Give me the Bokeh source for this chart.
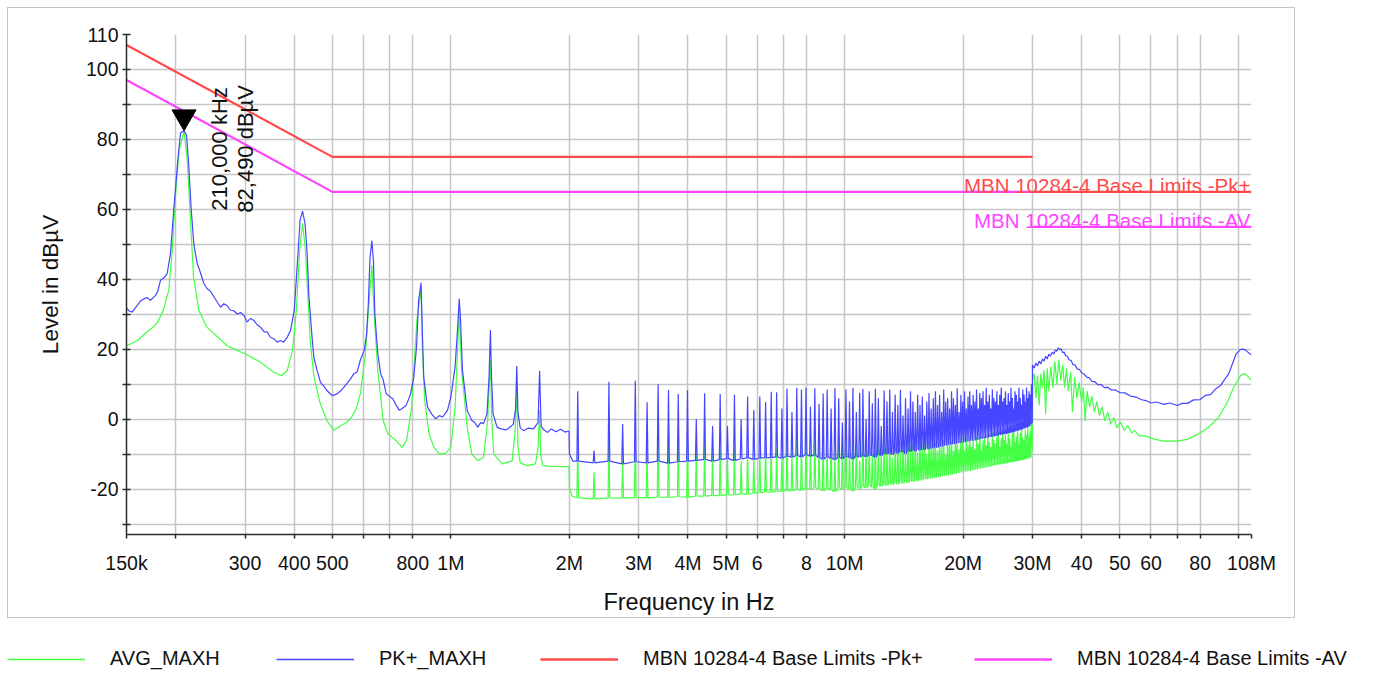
from bokeh.plotting import figure
from bokeh.models import Range1d, FixedTicker, Label, Legend, LegendItem, CustomJSTickFormatter
from bokeh.embed import file_html
from bokeh.resources import INLINE

FONT = "Liberation Sans"

# ---------------- axes ----------------
x_ticks_mhz = [0.15, 0.2, 0.3, 0.4, 0.5, 0.6, 0.7, 0.8, 1, 2, 3, 4, 5, 6, 7, 8,
               10, 20, 30, 40, 50, 60, 70, 80, 100, 108]
x_tick_labels = ["150k", "", "300", "400", "500", "", "", "800", "1M", "2M", "3M", "4M",
                 "5M", "6", "", "8", "10M", "20M", "30M", "40", "50", "60", "", "80", "", "108M"]
y_ticks_db = [-30, -20, -10, 0, 10, 20, 30, 40, 50, 60, 70, 80, 90, 100, 110]
y_tick_labels = ["", "-20", "", "0", "", "20", "", "40", "", "60", "", "80", "", "100", "110"]

# ---------------- limits ----------------
pk_limit_mhz = [0.15, 0.5, 30.0]
pk_limit_db = [107, 75, 75]
pk_limit2_mhz = [30.0, 108.0]
pk_limit2_db = [65, 65]
av_limit_mhz = [0.15, 0.5, 30.0]
av_limit_db = [97, 65, 65]
av_limit2_mhz = [30.0, 108.0]
av_limit2_db = [55, 55]

# ---------------- marker ----------------
marker_mhz = 0.21
marker_db = 82.49
marker_text_f = "210,000 kHz"
marker_text_l = "82,490 dBµV"

# ---------------- PK+ (blue) 150 kHz - 2 MHz ----------------
pk_low_mhz = [0.150, 0.152, 0.155, 0.1597, 0.163, 0.166, 0.169, 0.1726, 0.1778, 0.180,
              0.183, 0.187, 0.1903, 0.194, 0.1978, 0.2025, 0.2057, 0.210, 0.213, 0.2155,
              0.219, 0.2224, 0.2268, 0.231, 0.2358, 0.2404, 0.245, 0.250, 0.255, 0.260,
              0.265, 0.270, 0.275, 0.281, 0.287, 0.292, 0.298, 0.3037, 0.310, 0.316,
              0.322, 0.3285, 0.335, 0.3416, 0.348, 0.355, 0.362, 0.369, 0.376, 0.384,
              0.3915, 0.400, 0.408, 0.414, 0.420, 0.426, 0.431, 0.436, 0.444, 0.4486,
              0.457, 0.4665, 0.475, 0.485, 0.500, 0.515, 0.525, 0.545, 0.556, 0.567,
              0.578, 0.589, 0.603, 0.611, 0.617, 0.623, 0.630, 0.636, 0.641, 0.652,
              0.663, 0.672, 0.685, 0.698, 0.712, 0.726, 0.740, 0.755, 0.769, 0.780,
              0.790, 0.805, 0.818, 0.828, 0.840, 0.846, 0.853, 0.872, 0.893, 0.915,
              0.935, 0.953, 0.980, 1.000, 1.025, 1.040, 1.050, 1.058, 1.070, 1.100,
              1.130, 1.150, 1.170, 1.190, 1.210, 1.235, 1.250, 1.260, 1.268, 1.280,
              1.310, 1.340, 1.380, 1.410, 1.440, 1.460, 1.470, 1.480, 1.500, 1.530,
              1.570, 1.620, 1.665, 1.680, 1.695, 1.720, 1.760, 1.800, 1.850, 1.900,
              1.950, 1.995, 2.000, 2.040]
pk_low_db = [31.8, 31.0, 30.6, 32.5, 33.8, 34.4, 34.8, 34.0, 35.4, 36.5,
             39.7, 40.5, 41.6, 47.4, 60.0, 74.0, 81.8, 82.49, 81.3, 74.0,
             60.0, 50.0, 44.5, 42.0, 38.8, 37.3, 36.6, 35.0, 33.5, 32.0,
             33.0, 32.5, 31.2, 31.0, 30.0, 30.5, 29.7, 27.8, 28.8, 28.2,
             27.0, 26.3, 25.0, 24.9, 23.4, 23.0, 22.0, 22.5, 22.0, 23.4,
             25.4, 31.0, 45.5, 57.0, 59.5, 56.0, 48.3, 35.0, 23.4, 17.7,
             14.0, 10.5, 9.5, 8.1, 6.7, 7.3, 8.1, 10.2, 11.5, 13.0,
             13.5, 16.9, 19.8, 24.5, 33.0, 46.0, 51.0, 45.0, 30.0, 18.8,
             13.0, 11.5, 7.3, 6.5, 5.8, 4.0, 2.5, 3.2, 3.9, 5.5,
             7.3, 12.0, 20.7, 34.0, 39.0, 25.5, 12.0, 3.5, 1.5, 0.1,
             1.0, 0.6, 2.5, 6.3, 15.0, 26.0, 34.4, 28.4, 14.0, 2.5,
             -0.4, -1.0, -2.3, -1.0, -1.3, 1.5, 12.0, 25.5, 12.0, 1.5,
             -2.3, -2.8, -3.1, -2.4, -1.5, 3.0, 15.2, 2.0, -2.5, -3.3,
             -2.6, -2.8, -1.0, 13.8, -2.0, -3.0, -3.8, -2.8, -3.6, -2.9,
             -3.7, -3.4, -10.0, -12.0]

# ---------------- AVG (green) 150 kHz - 2 MHz ----------------
av_low_mhz = [0.150, 0.160, 0.169, 0.176, 0.180, 0.186, 0.192, 0.196, 0.200, 0.204,
              0.210, 0.214, 0.218, 0.222, 0.229, 0.240, 0.256, 0.270, 0.285, 0.300,
              0.328, 0.355, 0.372, 0.384, 0.396, 0.405, 0.413, 0.420, 0.427, 0.433,
              0.440, 0.449, 0.466, 0.485, 0.504, 0.525, 0.545, 0.560, 0.575, 0.589,
              0.607, 0.619, 0.630, 0.637, 0.652, 0.673, 0.692, 0.725, 0.752, 0.772,
              0.795, 0.808, 0.820, 0.840, 0.846, 0.858, 0.880, 0.905, 0.935, 0.970,
              1.000, 1.025, 1.050, 1.065, 1.100, 1.130, 1.170, 1.210, 1.240, 1.260,
              1.270, 1.285, 1.350, 1.430, 1.455, 1.470, 1.480, 1.500, 1.560, 1.640,
              1.665, 1.680, 1.690, 1.710, 1.800, 1.995, 2.000, 2.030]
av_low_db = [21.0, 22.5, 24.9, 26.5, 27.8, 31.1, 36.8, 48.3, 64.6, 77.0,
             82.3, 74.0, 57.0, 40.7, 31.1, 26.3, 23.4, 21.0, 19.8, 18.7,
             16.3, 13.4, 12.4, 13.9, 19.6, 31.1, 48.3, 56.0, 48.3, 35.9,
             21.5, 12.0, 4.3, -0.5, -3.2, -1.9, -0.8, 0.6, 3.0, 7.3,
             18.8, 33.0, 44.0, 32.0, 14.0, -0.4, -4.2, -6.1, -8.1, -6.1,
             3.5, 16.9, 28.4, 37.0, 20.7, 5.4, -4.2, -8.0, -10.0, -9.8,
             -8.0, 3.5, 31.0, 14.0, -2.3, -10.0, -11.9, -11.0, -0.4, 17.0,
             -0.4, -10.0, -12.8, -12.0, -4.0, 9.2, -8.0, -12.5, -13.3, -12.8,
             -8.0, 2.5, -10.0, -13.3, -13.5, -13.6, -19.6, -22.0]

# ---------------- harmonics 2.1 - 29.82 MHz ----------------
harm_mhz = [2.10, 2.31, 2.52, 2.73, 2.94, 3.15, 3.36, 3.57, 3.78, 3.99,
            4.20, 4.41, 4.62, 4.83, 5.04, 5.25, 5.46, 5.67, 5.88, 6.09,
            6.30, 6.51, 6.72, 6.93, 7.14, 7.35, 7.56, 7.77, 7.98, 8.19,
            8.40, 8.61, 8.82, 9.03, 9.24, 9.45, 9.66, 9.87, 10.08, 10.29,
            10.50, 10.71, 10.92, 11.13, 11.34, 11.55, 11.76, 11.97, 12.18, 12.39,
            12.60, 12.81, 13.02, 13.23, 13.44, 13.65, 13.86, 14.07, 14.28, 14.49,
            14.70, 14.91, 15.12, 15.33, 15.54, 15.75, 15.96, 16.17, 16.38, 16.59,
            16.80, 17.01, 17.22, 17.43, 17.64, 17.85, 18.06, 18.27, 18.48, 18.69,
            18.90, 19.11, 19.32, 19.53, 19.74, 19.95, 20.16, 20.37, 20.58, 20.79,
            21.00, 21.21, 21.42, 21.63, 21.84, 22.05, 22.26, 22.47, 22.68, 22.89,
            23.10, 23.31, 23.52, 23.73, 23.94, 24.15, 24.36, 24.57, 24.78, 24.99,
            25.20, 25.41, 25.62, 25.83, 26.04, 26.25, 26.46, 26.67, 26.88, 27.09,
            27.30, 27.51, 27.72, 27.93, 28.14, 28.35, 28.56, 28.77, 28.98, 29.19,
            29.40, 29.61, 29.82]
pk_harm_peak = [8.0, -9.0, 10.7, -1.4, 11.0, 4.8, 10.0, 8.3, 7.2, 8.3,
                0.0, 7.4, -2.0, 7.2, -2.0, 7.0, 0.0, 6.5, 2.5, 6.5,
                4.9, 7.8, 7.7, 3.0, 8.7, 2.0, 9.0, 8.5, 9.0, 3.5,
                8.8, 4.4, 7.3, 8.5, 3.0, 8.8, 6.0, -1.0, 8.5, 5.0,
                8.9, 2.0, 7.5, 8.6, 0.0, 8.0, 4.5, 8.7, 6.0, -2.0,
                8.2, 5.0, 8.5, 2.0, 7.0, 4.0, 8.4, 1.0, 6.0, 3.0,
                8.0, 5.0, 2.0, 7.0, 4.0, 6.5, 1.0, 5.0, 7.5, 3.0,
                6.0, 8.0, 4.0, 7.0, 2.0, 8.5, 5.0, 6.0, 3.0, 8.0,
                6.0, 4.0, 8.8, 2.0, 7.0, 5.0, 8.0, 3.0, 6.5, 8.0,
                4.0, 7.0, 5.0, 8.5, 3.0, 7.5, 6.0, 8.0, 4.0, 9.0,
                5.0, 7.0, 3.0, 8.5, 6.0, 5.0, 8.0, 4.0, 7.0, 9.0,
                5.0, 6.0, 8.0, 4.0, 7.5, 5.0, 9.0, 6.0, 3.0, 8.0,
                7.0, 5.0, 9.0, 6.0, 4.0, 8.5, 7.0, 5.0, 9.0, 6.0,
                8.0, 7.0, 10.0]
pk_harm_floor = [-12.0, -12.5, -12.0, -12.8, -12.2, -12.5, -12.0, -12.6, -12.2, -12.0,
                 -11.8, -11.5, -12.0, -11.6, -11.3, -11.8, -11.4, -11.0, -11.5, -11.2,
                 -11.0, -11.0, -10.8, -11.2, -10.6, -10.9, -10.4, -10.8, -10.2, -10.6,
                 -10.3, -11.0, -11.5, -10.8, -11.2, -11.6, -10.9, -11.3, -10.7, -11.0,
                 -11.4, -10.6, -10.9, -10.4, -10.8, -10.2, -10.5, -10.9, -10.1, -10.4,
                 -9.8, -10.0, -9.6, -10.2, -9.4, -9.8, -9.1, -9.5, -9.9, -9.0,
                 -9.3, -8.8, -9.2, -8.6, -9.0, -8.4, -8.8, -8.2, -8.6, -8.0,
                 -8.3, -7.8, -8.2, -7.5, -7.9, -7.2, -7.6, -7.0, -7.4, -6.8,
                 -7.2, -6.6, -7.0, -6.5, -6.8, -6.2, -6.6, -6.0, -6.4, -5.8,
                 -6.2, -5.8, -6.1, -5.5, -5.9, -5.3, -5.7, -5.1, -5.5, -4.9,
                 -5.3, -4.8, -5.1, -4.6, -5.0, -4.4, -4.8, -4.2, -4.6, -4.0,
                 -4.4, -4.0, -4.3, -3.7, -4.1, -3.5, -3.9, -3.3, -3.7, -3.1,
                 -3.4, -2.9, -3.2, -2.6, -3.0, -2.4, -2.7, -2.1, -2.4, -1.8,
                 -2.1, -1.5, -1.2]
av_harm_peak = [-7.9, -15.3, -5.2, -12.0, -5.0, -8.3, -2.8, -3.8, -5.7, -6.6,
                -9.0, -6.2, -9.8, -8.6, -11.0, -8.6, -12.0, -9.0, -11.0, -8.6,
                -8.0, -7.1, -8.6, -10.0, -3.8, -10.0, -4.2, -6.6, -4.7, -10.0,
                -4.7, -8.0, -5.0, -9.0, -6.0, -11.0, -5.5, -8.0, -4.5, -10.0,
                -6.0, -7.0, -12.0, -5.0, -8.0, -6.5, -10.0, -4.8, -7.5, -9.0,
                -5.5, -8.0, -6.0, -11.0, -7.0, -5.0, -9.0, -6.5, -10.0, -5.5,
                -8.0, -7.0, -4.8, -9.5, -6.0, -8.0, -5.0, -10.0, -6.5, -7.5,
                -5.5, -7.0, -9.0, -5.5, -8.0, -6.0, -10.0, -5.0, -7.5, -6.5,
                -9.0, -4.5, -7.0, -8.5, -5.5, -6.5, -9.0, -5.0, -7.5, -4.8,
                -8.0, -6.0, -8.5, -5.0, -7.0, -4.0, -9.0, -6.0, -5.0, -7.5,
                -4.5, -6.5, -8.0, -3.8, -6.0, -7.0, -5.0, -4.0, -8.0, -5.5,
                -3.5, -6.0, -4.5, -7.0, -3.5, -5.5, -8.0, -4.0, -2.5, -6.5,
                -5.0, -3.0, -7.0, -4.0, -2.5, -5.5, -6.0, -3.0, -4.5, -2.0,
                -5.0, -3.5, 0.0]
av_harm_floor = [-22.5, -22.8, -22.5, -22.6, -22.4, -22.5, -22.3, -22.4, -22.2, -22.3,
                 -22.0, -22.0, -21.8, -21.9, -21.6, -21.7, -21.4, -21.5, -21.2, -21.0,
                 -20.8, -20.9, -20.6, -20.7, -20.4, -20.5, -20.1, -20.3, -19.9, -20.0,
                 -19.6, -20.0, -20.5, -19.8, -20.3, -20.8, -19.6, -20.2, -19.5, -20.0,
                 -20.6, -19.4, -19.9, -19.2, -19.7, -19.0, -19.5, -20.0, -18.8, -19.2,
                 -18.6, -19.0, -18.4, -18.8, -18.2, -18.6, -18.0, -18.4, -17.8, -18.2,
                 -17.6, -17.9, -17.4, -17.7, -17.1, -17.5, -16.9, -17.2, -16.7, -17.0,
                 -16.5, -16.8, -16.2, -16.6, -16.0, -16.3, -15.8, -16.1, -15.6, -15.9,
                 -15.3, -15.7, -15.1, -15.4, -14.9, -15.2, -14.7, -15.0, -14.5, -14.8,
                 -14.3, -14.6, -14.1, -14.4, -13.9, -14.2, -13.7, -14.0, -13.5, -13.8,
                 -13.3, -13.6, -13.1, -13.4, -12.9, -13.2, -12.8, -13.0, -12.6, -12.9,
                 -12.4, -12.7, -12.3, -12.6, -12.1, -12.4, -12.0, -12.3, -11.8, -12.1,
                 -11.7, -12.0, -11.5, -11.8, -11.4, -11.7, -11.2, -11.5, -11.0, -11.3,
                 -10.8, -11.0, -9.0]

# ---------------- 30 - 108 MHz ----------------
pk_high_mhz = [30.0, 30.3, 30.6, 30.9, 31.2, 31.5, 31.8, 32.1, 32.4, 32.7,
               33.0, 33.3, 33.7, 34.0, 34.3, 34.6, 34.9, 35.2, 35.5, 35.8,
               36.1, 36.4, 36.8, 37.2, 37.6, 38.0, 38.5, 39.0, 39.5, 40.0,
               40.6, 41.2, 41.8, 42.5, 43.2, 44.0, 44.8, 45.7, 46.6, 47.6,
               48.6, 50.0, 51.5, 53.2, 55.0, 56.5, 58.3, 60.0, 62.0, 64.7,
               67.0, 70.0, 72.0, 74.2, 77.0, 80.0, 82.5, 85.0, 87.5, 90.1,
               92.5, 94.6, 96.0, 97.4, 98.7, 100.0, 101.2, 102.3, 103.8, 105.4,
               106.8, 108.0]
pk_high_db = [15.5, 14.6, 16.0, 15.2, 16.6, 15.8, 17.2, 16.6, 18.0, 17.2,
              18.6, 18.0, 19.2, 18.6, 19.8, 19.4, 20.4, 19.8, 20.1, 19.0,
              19.2, 18.2, 18.0, 16.9, 16.8, 15.6, 15.5, 14.3, 14.2, 13.2,
              12.9, 12.0, 11.8, 10.8, 10.7, 9.8, 9.9, 9.0, 9.1, 8.3,
              8.4, 7.6, 7.5, 6.6, 6.3, 5.6, 5.3, 4.6, 4.9, 4.2,
              4.6, 3.9, 4.5, 4.5, 5.5, 5.6, 6.8, 7.0, 8.6, 9.6,
              11.5, 13.0, 15.0, 16.9, 18.6, 19.3, 19.9, 20.0, 19.9, 19.3,
              18.7, 18.4]
av_high_mhz = [30.02, 30.3, 30.6, 30.9, 31.2, 31.5, 31.8, 32.1, 32.4, 32.7,
               33.0, 33.4, 33.8, 34.2, 34.6, 35.0, 35.4, 35.8, 36.2, 36.6,
               37.0, 37.5, 37.9, 38.4, 38.9, 39.4, 40.0, 40.4, 40.8, 41.3,
               41.9, 42.5, 43.1, 43.7, 44.4, 45.1, 45.8, 46.6, 47.4, 48.3,
               49.2, 50.2, 51.3, 52.4, 53.6, 54.5, 56.0, 58.0, 61.5, 64.7,
               69.7, 74.2, 78.9, 83.9, 89.1, 93.7, 97.4, 101.5, 104.0, 108.0]
av_high_db = [11.0, 13.0, 6.0, 12.5, 4.0, 13.0, 9.0, 14.0, 1.5, 14.5,
              8.0, 15.0, 9.0, 16.5, 10.0, 17.0, 11.0, 15.5, 9.0, 14.5,
              8.0, 13.5, 2.0, 12.0, 6.0, 10.5, 5.0, 9.0, -0.5, 8.0,
              3.5, 6.5, 2.0, 5.0, 1.0, 3.5, -0.5, 2.0, -1.5, 0.5,
              -2.5, -0.8, -3.2, -1.8, -4.0, -3.2, -4.8, -4.8, -5.8, -6.3,
              -6.3, -5.8, -4.3, -2.4, 0.5, 4.8, 9.2, 12.6, 13.0, 11.1]

# ---------------- colours / styles ----------------
C_AVG = "#44ff44"
C_PK = "#4646ff"
C_LIM_PK = "#ff4a4a"
C_LIM_AV = "#ff44ff"
SPIKE_HALF_WIDTH = 0.005   # relative half width of a harmonic spike base

Y_MIN, Y_MAX = -33, 110
F_MIN, F_MAX = 0.15, 108
FRAME_W, FRAME_H = 1125, 500


def build_trace(low_f, low_v, peaks, floors, high_f, high_v):
    f = list(low_f)
    v = list(low_v)
    for h, pv, fl in zip(harm_mhz, peaks, floors):
        f += [h * (1 - SPIKE_HALF_WIDTH), h, h * (1 + SPIKE_HALF_WIDTH)]
        v += [fl, pv, fl]
    f += list(high_f)
    v += list(high_v)
    return f, v


av_f, av_v = build_trace(av_low_mhz, av_low_db, av_harm_peak, av_harm_floor, av_high_mhz, av_high_db)
pk_f, pk_v = build_trace(pk_low_mhz, pk_low_db, pk_harm_peak, pk_harm_floor, pk_high_mhz, pk_high_db)

p = figure(frame_width=FRAME_W, frame_height=FRAME_H, title=None, x_axis_type="log",
           x_range=Range1d(F_MIN, F_MAX), y_range=Range1d(Y_MIN, Y_MAX),
           output_backend="svg", toolbar_location=None,
           min_border_left=118, min_border_right=43, min_border_top=26, min_border_bottom=78)
p.margin = (7, 0, 0, 7)
p.styles = {"border": "1px solid #c4c4c4"}
p.outline_line_color = None
p.background_fill_color = "white"
p.border_fill_color = "white"

tick_js = """
let best = -1;
for (let i = 0; i < ticks_in.length; i++) {
  if (Math.abs(ticks_in[i] - tick) <= 1e-6 * Math.max(1, Math.abs(tick))) { best = i; break; }
}
return best >= 0 ? labels[best] : "";
"""
p.xaxis.ticker = FixedTicker(ticks=x_ticks_mhz, minor_ticks=[])
p.xaxis.formatter = CustomJSTickFormatter(args=dict(ticks_in=x_ticks_mhz, labels=x_tick_labels), code=tick_js)
p.yaxis.ticker = FixedTicker(ticks=y_ticks_db, minor_ticks=[])
p.yaxis.formatter = CustomJSTickFormatter(args=dict(ticks_in=y_ticks_db, labels=y_tick_labels), code=tick_js)

for ax in (p.xaxis[0], p.yaxis[0]):
    ax.axis_line_color = "#2a2a2a"
    ax.axis_line_width = 1.5
    ax.major_tick_line_color = "#2a2a2a"
    ax.major_tick_line_width = 1.5
    ax.minor_tick_line_color = None
    ax.major_label_text_font = FONT
    ax.major_label_text_font_size = "19.5px"
    ax.major_label_text_color = "#111111"
    ax.axis_label_text_font = FONT
    ax.axis_label_text_font_style = "normal"
    ax.axis_label_text_color = "#111111"

p.xaxis.major_tick_out = 4
p.xaxis.major_tick_in = 0
p.xaxis.major_label_standoff = 13
p.xaxis.axis_label = "Frequency in Hz"
p.xaxis.axis_label_text_font_size = "23.5px"
p.xaxis.axis_label_standoff = 12
p.yaxis.major_tick_out = 4
p.yaxis.major_tick_in = 4
p.yaxis.major_label_standoff = 4
p.yaxis.axis_label = "Level in dBµV"
p.yaxis.axis_label_text_font_size = "22.5px"
p.yaxis.axis_label_standoff = 20

p.grid.grid_line_color = "#c6c6c6"
p.grid.grid_line_width = 1.5

r_av = p.line(av_f, av_v, line_color=C_AVG, line_width=1.2)
r_pk = p.line(pk_f, pk_v, line_color=C_PK, line_width=1.2)
p.line(av_limit_mhz, av_limit_db, line_color=C_LIM_AV, line_width=2.2)
p.line(av_limit2_mhz, av_limit2_db, line_color=C_LIM_AV, line_width=2.2)
p.line(pk_limit_mhz, pk_limit_db, line_color=C_LIM_PK, line_width=2.2)
p.line(pk_limit2_mhz, pk_limit2_db, line_color=C_LIM_PK, line_width=2.2)

# marker triangle: tip on the measured point
px_per_db = FRAME_H / (Y_MAX - Y_MIN)
tri_size = 24
tip_offset_db = (tri_size / 2) * (3 ** 0.5) * 2 / 3 / px_per_db
p.scatter([marker_mhz], [marker_db + tip_offset_db], marker="inverted_triangle",
          size=tri_size, fill_color="black", line_color="black")
for txt, dx, dy in ((marker_text_f, 35, -80), (marker_text_l, 61, -82)):
    p.add_layout(Label(x=marker_mhz, y=marker_db, text=txt, angle=1.5707963,
                       text_align="left", text_baseline="middle", x_offset=dx, y_offset=dy,
                       text_font=FONT, text_font_size="22px", text_color="#111111"))

p.add_layout(Label(x=pk_limit2_mhz[-1], y=pk_limit2_db[-1], text="MBN 10284-4 Base Limits -Pk+",
                   text_align="right", text_baseline="alphabetic", x_offset=-1, y_offset=6,
                   text_font=FONT, text_font_size="20.5px", text_color=C_LIM_PK))
p.add_layout(Label(x=av_limit2_mhz[-1], y=av_limit2_db[-1], text="MBN 10284-4 Base Limits -AV",
                   text_align="right", text_baseline="alphabetic", x_offset=-1, y_offset=6,
                   text_font=FONT, text_font_size="20.5px", text_color=C_LIM_AV))

# ---------------- legend strip ----------------
leg = figure(width=1370, height=52, title=None, x_range=Range1d(0, 1), y_range=Range1d(0, 1),
             output_backend="svg", toolbar_location=None, min_border=0,
             x_axis_location=None, y_axis_location=None)
leg.grid.visible = False
leg.outline_line_color = None
legend_entries = [("AVG_MAXH", C_AVG, 1.5, 7),
                  ("PK+_MAXH", C_PK, 1.5, 276),
                  ("MBN 10284-4 Base Limits -Pk+", C_LIM_PK, 2.4, 540),
                  ("MBN 10284-4 Base Limits -AV", C_LIM_AV, 2.4, 974)]
for name, col, lw, xpos in legend_entries:
    r = leg.line([float("nan")], [float("nan")], line_color=col, line_width=lw)
    lg = Legend(items=[LegendItem(label=name, renderers=[r])], location=(xpos, 0),
                orientation="horizontal", glyph_width=78, glyph_height=20, label_standoff=25,
                padding=0, margin=0, border_line_color=None, background_fill_alpha=0,
                label_text_font=FONT, label_text_font_size="20px", label_text_color="#111111")
    leg.add_layout(lg, "center")

open("out.html", "w").write(file_html([p, leg], INLINE))
